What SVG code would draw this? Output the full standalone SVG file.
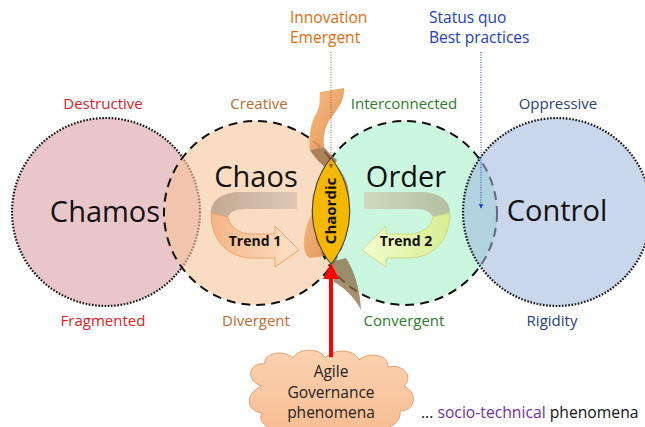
<svg xmlns="http://www.w3.org/2000/svg" width="645" height="427" viewBox="0 0 645 427">
<style>
text{font-family:"Open Sans","Liberation Sans",sans-serif}
.lbl{font-size:15px;text-anchor:middle}
.big{font-size:29px;fill:#111;text-anchor:middle}
.bold{font-size:14px;font-weight:bold;fill:#111;text-anchor:middle}
.dot{stroke:#111;stroke-width:2.2;stroke-dasharray:1.6 1.6}
.dash{stroke:#111;stroke-width:2;stroke-dasharray:9 6}
.red{fill:#e31b23}.brn{fill:#c06a30}.grn{fill:#2b7a2b}.nav{fill:#1f3f7f}
</style>
<defs>
<linearGradient id="gBack1" x1="0" x2="1" y1="0" y2="0"><stop offset="0" stop-color="#b8a08c"/><stop offset="1" stop-color="#d8c6b4"/></linearGradient>
<linearGradient id="gFront1" x1="0" x2="1" y1="0" y2="0"><stop offset="0" stop-color="#f4b486"/><stop offset="1" stop-color="#fde2c6"/></linearGradient>
<linearGradient id="gBack2" x1="0" x2="1" y1="0" y2="0"><stop offset="0" stop-color="#b0b494"/><stop offset="1" stop-color="#d0d4b8"/></linearGradient>
<linearGradient id="gFront2" x1="0" x2="1" y1="0" y2="0"><stop offset="0" stop-color="#d8ee90"/><stop offset="1" stop-color="#f4fbd0"/></linearGradient>
<linearGradient id="gRib" x1="0" x2="1" y1="0" y2="1"><stop offset="0" stop-color="#f6b478"/><stop offset="1" stop-color="#e08a44"/></linearGradient>
<linearGradient id="gCloud" x1="0" x2="0" y1="0" y2="1"><stop offset="0" stop-color="#fbd2b0"/><stop offset="1" stop-color="#f8be94"/></linearGradient>
<marker id="aBrn" viewBox="0 0 10 10" refX="9" refY="5" markerWidth="5" markerHeight="5" orient="auto"><path d="M0,0 L10,5 L0,10 Z" fill="#a0602a"/></marker>
<marker id="aBlu" viewBox="0 0 10 10" refX="9" refY="5" markerWidth="5" markerHeight="5" orient="auto"><path d="M0,0 L10,5 L0,10 Z" fill="#1f3fd0"/></marker>
</defs>

<g id="chamos">
<circle cx="106" cy="212" r="94" fill="#d9a0a6" fill-opacity="0.6" class="dot"/>
<text x="105" y="222" class="big">Chamos</text>
<text x="103" y="109" class="lbl red">Destructive</text>
<text x="103" y="326" class="lbl red">Fragmented</text>
</g>
<g id="chaos">
<circle cx="256" cy="213" r="92" fill="#f7c49a" fill-opacity="0.6" class="dash"/>
<text x="256" y="187" class="big">Chaos</text>
<text x="259" y="109" class="lbl brn">Creative</text>
<text x="256" y="326" class="lbl brn">Divergent</text>
</g>
<g id="order">
<circle cx="405" cy="213" r="92" fill="#a0f0c8" fill-opacity="0.55" class="dash"/>
<text x="406" y="187" class="big">Order</text>
<text x="404" y="109" class="lbl grn">Interconnected</text>
<text x="404" y="326" class="lbl grn">Convergent</text>
</g>
<g id="control">
<circle cx="557" cy="212" r="94" fill="#9db5dc" fill-opacity="0.55" class="dot"/>
<text x="557" y="221" class="big">Control</text>
<text x="558" y="109" class="lbl nav">Oppressive</text>
<text x="552" y="326" class="lbl nav">Rigidity</text>
</g>

<g id="trend1">
<path d="M297,192 L242,192 C222,192 211,200 211,213 C211,225 216,233 222,238 L232,232 C228,227 227,222 228,217 C230,212 236,209 244,209 L297,209 Z" fill="url(#gBack1)" fill-opacity="0.85"/>
<path d="M211,213 C211,240 228,258 252,258 L275,258 L275,267 L299,250 L275,226 L275,234 L252,234 C240,234 230,228 228,217 Z" fill="url(#gFront1)" stroke="#eea46a" stroke-width="1"/>
<text x="255" y="246" class="bold">Trend 1</text>
</g>
<g id="trend2">
<g transform="translate(661,0) scale(-1,1)">
<path d="M297,192 L242,192 C222,192 211,200 211,213 C211,225 216,233 222,238 L232,232 C228,227 227,222 228,217 C230,212 236,209 244,209 L297,209 Z" fill="url(#gBack2)" fill-opacity="0.85"/>
<path d="M211,213 C211,240 228,258 252,258 L275,258 L275,267 L299,250 L275,226 L275,234 L252,234 C240,234 230,228 228,217 Z" fill="url(#gFront2)" stroke="#c8dc80" stroke-width="1"/>
</g>
<text x="406" y="246" class="bold">Trend 2</text>
</g>

<g id="ribbon">
<path d="M320,92 L344,88 C345,99 338,109 331,118 C325,126 323,136 324,147 L310,150 C308,136 311,122 317,112 C321,104 319,97 320,92 Z" fill="url(#gRib)" fill-opacity="0.9"/>
<path d="M310,150 L324,147 C328,152 332,156 337,160 L331,171 C322,166 315,158 310,150 Z" fill="#9a6a40" fill-opacity="0.8"/>
<path d="M337,166 C345,175 350,186 349,200 L341,206 C342,192 340,181 333,172 Z" fill="#8a7a50" fill-opacity="0.6"/>
<path d="M322,200 C312,210 304,225 304,245 C304,252 306,256 310,258 L324,256 C318,245 320,225 328,212 Z" fill="url(#gRib)" fill-opacity="0.85"/>
<path d="M330,262 L346,258 C355,272 360,290 361,310 C355,298 345,288 334,282 Z" fill="#8a6a40" fill-opacity="0.75"/>
</g>

<g id="chaordic">
<path d="M331,158 A84,84 0 0 1 331,264 A84,84 0 0 1 331,158 Z" fill="#f5b800" stroke="#333" stroke-width="1"/>
<text transform="translate(336,211) rotate(-90)" class="bold" style="font-size:15px">Chaordic</text>
</g>

<g id="innovation">
<text x="290" y="23" style="font-size:15.5px;fill:#e36c0a">Innovation</text>
<text x="290" y="43" style="font-size:15.5px;fill:#e36c0a">Emergent</text>
</g>
<g id="statusquo">
<text x="429" y="23" style="font-size:15.5px;fill:#2040c0">Status quo</text>
<text x="429" y="43" style="font-size:15.5px;fill:#2040c0">Best practices</text>
</g>

<g id="cloud">
<path d="M262,386 C246,382 247,362 265,364 C263,353 283,349 293,358 C299,347 321,348 325,358 C333,348 355,349 359,360 C369,351 389,355 388,367 C403,363 414,377 404,386 C418,392 416,411 400,411 C402,424 386,432 370,428 L290,430 C274,434 256,424 262,413 C246,411 244,394 262,386 Z" fill="url(#gCloud)" stroke="#e3a070" stroke-width="1"/>
<text x="331" y="377" style="font-size:15.5px;fill:#222;text-anchor:middle">Agile</text>
<text x="331" y="398" style="font-size:15.5px;fill:#222;text-anchor:middle">Governance</text>
<text x="331" y="418" style="font-size:15.5px;fill:#222;text-anchor:middle">phenomena</text>
</g>

<g id="connectors">
<line x1="331" y1="52" x2="331" y2="168" stroke="#a0602a" stroke-width="1" stroke-dasharray="1 1.5" marker-end="url(#aBrn)"/>
<line x1="481" y1="52" x2="481" y2="208" stroke="#1f3fd0" stroke-width="1" stroke-dasharray="1 1.5" marker-end="url(#aBlu)"/>
<line x1="331" y1="357" x2="331" y2="276" stroke="#ff0000" stroke-width="4"/>
<path d="M331,263 L339,279 L323,279 Z" fill="#ff0000"/>
</g>

<text x="421" y="418" style="font-size:15.7px;fill:#111">... <tspan fill="#7030a0">socio-technical</tspan> phenomena</text>
</svg>
